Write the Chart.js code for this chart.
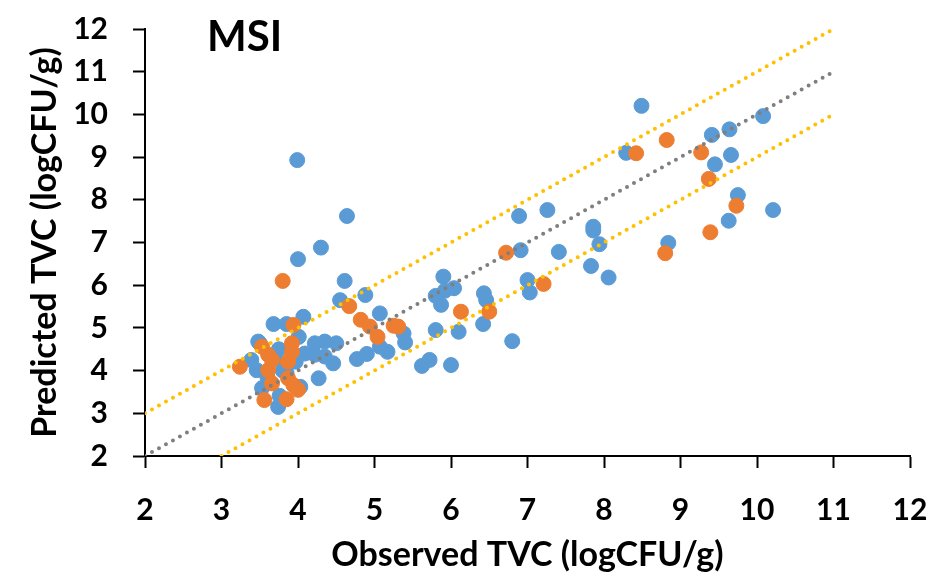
<!DOCTYPE html>
<html>
<head>
<meta charset="utf-8">
<script src="https://cdn.jsdelivr.net/npm/chart.js@4"></script>
<style>
  html, body { margin: 0; padding: 0; background: #fff; }
  #wrap { width: 935px; height: 582px; position: relative; }
</style>
</head>
<body>
<div id="wrap"><canvas id="msiChart"></canvas></div>
<script>
// Observed vs predicted TVC (logCFU/g), MSI model
const blueX = [3.99, 4.00, 4.30, 4.64, 4.61, 4.55, 4.88, 5.07, 5.38, 5.40, 5.07, 5.17, 4.77, 4.90,
    4.07, 3.68, 3.85, 4.01, 3.48, 3.39, 3.46, 4.09, 4.22, 4.35, 4.50, 4.22, 4.35, 4.46, 4.27,
    3.53, 3.74, 4.03, 3.97, 3.76, 3.50, 3.70, 3.80, 3.60, 3.85, 3.75,
    5.90, 5.80, 5.92, 6.04, 5.87, 5.80, 6.10, 5.62, 5.72, 6.00, 6.43, 6.46, 6.42, 6.80,
    7.00, 7.03, 6.89, 7.26, 6.91, 7.41, 7.86, 7.86, 7.94, 7.83, 8.06,
    8.49, 8.29, 9.41, 9.64, 10.08, 9.66, 9.45, 9.75, 10.21, 9.63, 8.84];
const blueY = [8.93, 6.61, 6.88, 7.62, 6.10, 5.65, 5.77, 5.34, 4.87, 4.66, 4.56, 4.44, 4.27, 4.39,
    5.26, 5.09, 5.09, 4.79, 4.68, 4.25, 4.01, 4.40, 4.64, 4.68, 4.64, 4.37, 4.33, 4.17, 3.82,
    3.59, 3.15, 3.62, 4.21, 3.41, 4.64, 4.30, 4.00, 3.85, 3.95, 4.50,
    6.20, 5.75, 5.87, 5.93, 5.54, 4.95, 4.91, 4.11, 4.25, 4.13, 5.81, 5.65, 5.09, 4.69,
    6.12, 5.83, 7.62, 7.76, 6.82, 6.78, 7.37, 7.28, 6.96, 6.45, 6.18,
    10.20, 9.10, 9.52, 9.65, 9.96, 9.05, 8.83, 8.11, 7.76, 7.51, 6.99];

const orangeX = [3.80, 4.67, 4.82, 4.94, 5.04, 5.25, 5.31, 3.94, 3.92, 3.92, 3.87, 3.53, 3.61,
    3.66, 3.61, 3.24, 3.66, 3.87, 3.94, 4.00, 3.56, 3.85, 6.13, 6.50, 6.72, 7.21,
    8.42, 8.82, 9.27, 9.37, 9.73, 9.39, 8.80];
const orangeY = [6.10, 5.51, 5.19, 5.03, 4.79, 5.05, 5.03, 5.07, 4.64, 4.44, 4.21, 4.56, 4.37,
    4.25, 4.01, 4.09, 3.70, 3.82, 3.66, 3.55, 3.31, 3.33, 5.38, 5.38, 6.76, 6.03,
    9.09, 9.40, 9.11, 8.49, 7.86, 7.24, 6.75];

// 1:1 line and +/- 1 log bands
const lineX = [2, 11];
const lineY = [2, 11];
const upperX = [2, 11];
const upperY = [3, 12];
const lowerX = [3, 11];
const lowerY = [2, 10];

const tickValues = [2, 3, 4, 5, 6, 7, 8, 9, 10, 11, 12];

const FONT = 'Lato, "Open Sans", sans-serif';

function toPoints(xs, ys) {
    return xs.map((x, i) => ({ x: x, y: ys[i] }));
}

function dottedLine(xs, ys, color) {
    return {
        type: 'line',
        data: toPoints(xs, ys),
        borderColor: color,
        borderWidth: 4,
        borderDash: [0, 8],
        borderCapStyle: 'round',
        pointRadius: 0,
        fill: false,
        order: 0
    };
}

const labelPlugin = {
    id: 'panelLabel',
    afterDraw(chart) {
        const ctx = chart.ctx;
        const area = chart.chartArea;
        ctx.save();
        ctx.font = 'bold 42px ' + FONT;
        ctx.fillStyle = '#000';
        ctx.textBaseline = 'middle';
        ctx.fillText('MSI', area.left + 62, area.top + 8);
        ctx.restore();
    }
};

const axisStyle = {
    min: 2,
    max: 12,
    border: { display: true, color: '#000', width: 2 },
    grid: {
        drawOnChartArea: false,
        drawTicks: true,
        tickLength: 12,
        tickWidth: 2,
        color: '#000'
    }
};

new Chart(document.getElementById('msiChart'), {
    type: 'scatter',
    data: {
        datasets: [
            dottedLine(upperX, upperY, '#FFC000'),
            dottedLine(lowerX, lowerY, '#FFC000'),
            dottedLine(lineX, lineY, '#7F7F7F'),
            {
                data: toPoints(orangeX, orangeY),
                backgroundColor: '#ED7D31',
                borderColor: '#ED7D31',
                pointRadius: 7.5,
                order: 1
            },
            {
                data: toPoints(blueX, blueY),
                backgroundColor: '#5B9BD5',
                borderColor: '#5B9BD5',
                pointRadius: 7.5,
                order: 2
            }
        ]
    },
    options: {
        responsive: true,
        maintainAspectRatio: false,
        animation: false,
        layout: { padding: { left: 0, right: 25, top: 29, bottom: 0 } },
        plugins: {
            legend: { display: false },
            tooltip: { enabled: false }
        },
        scales: {
            x: {
                type: 'linear',
                ...axisStyle,
                afterBuildTicks: (axis) => { axis.ticks = tickValues.map(v => ({ value: v })); },
                afterFit: (axis) => {
                    axis.height = 126;
                    axis.paddingLeft = 0;
                    axis.paddingRight = 0;
                },
                ticks: {
                    color: '#000',
                    padding: 24,
                    font: { family: FONT, size: 30, weight: 'bold' }
                },
                title: {
                    display: true,
                    text: 'Observed TVC (logCFU/g)',
                    color: '#000',
                    padding: { top: 0, bottom: 7 },
                    font: { family: FONT, size: 34, weight: 'bold' }
                }
            },
            y: {
                type: 'linear',
                ...axisStyle,
                afterBuildTicks: (axis) => { axis.ticks = tickValues.map(v => ({ value: v })); },
                afterFit: (axis) => {
                    axis.width = 145;
                    axis.paddingTop = 0;
                    axis.paddingBottom = 0;
                },
                ticks: {
                    color: '#000',
                    padding: 25,
                    font: { family: FONT, size: 30, weight: 'bold' }
                },
                title: {
                    display: true,
                    text: 'Predicted TVC (logCFU/g)',
                    color: '#000',
                    padding: { top: 25, bottom: 0 },
                    font: { family: FONT, size: 34, weight: 'bold' }
                }
            }
        }
    },
    plugins: [labelPlugin]
});
</script>
</body>
</html>
